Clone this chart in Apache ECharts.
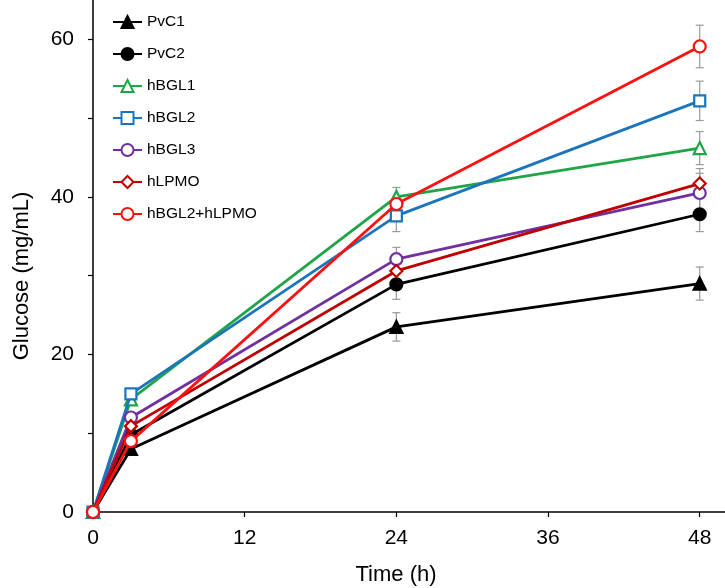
<!DOCTYPE html>
<html>
<head>
<meta charset="utf-8">
<script src="https://cdn.jsdelivr.net/npm/echarts@6/dist/echarts.min.js"></script>
<style>
html,body{margin:0;padding:0;background:#fff;}
#chart{width:725px;height:588px;}
</style>
</head>
<body>
<div id="chart"></div>
<script>
var times = [0, 3, 24, 48];
var seriesNames = ['PvC1', 'PvC2', 'hBGL1', 'hBGL2', 'hBGL3', 'hLPMO', 'hBGL2+hLPMO'];
var pvc1 = [0, 8.0, 23.5, 29.0];
var pvc2 = [0, 9.8, 28.9, 37.8];
var hbgl1 = [0, 14.3, 40.0, 46.2];
var hbgl2 = [0, 15.0, 37.6, 52.2];
var hbgl3 = [0, 12.0, 32.1, 40.5];
var hlpmo = [0, 10.9, 30.6, 41.7];
var hbgl2hlpmo = [0, 9.0, 39.1, 59.1];
var pvc1Err = [0, 0.4, 1.8, 2.1];
var pvc2Err = [0, 0.4, 1.9, 2.2];
var hbgl1Err = [0, 0.4, 1.2, 2.1];
var hbgl2Err = [0, 0.4, 2.0, 2.5];
var hbgl3Err = [0, 0.4, 1.5, 2.5];
var hlpmoErr = [0, 0.4, 1.5, 1.9];
var hbgl2hlpmoErr = [0, 0.4, 1.0, 2.7];
var xTicks = [0, 12, 24, 36, 48];
var yTicks = [0, 20, 40, 60];

var values = [pvc1, pvc2, hbgl1, hbgl2, hbgl3, hlpmo, hbgl2hlpmo];
var errors = [pvc1Err, pvc2Err, hbgl1Err, hbgl2Err, hbgl3Err, hlpmoErr, hbgl2hlpmoErr];
var colors = ['#000000', '#000000', '#1fa548', '#1c75bc', '#7030a0', '#c00000', '#ff1010'];
var symbols = ['triangle', 'circle', 'triangle', 'rect', 'circle', 'diamond', 'circle'];
var filled = [true, true, false, false, false, false, false];
var sizes = [12, 12, 12, 11, 12, 12, 12];
var FONT = 'Liberation Sans, Arial, sans-serif';

var series = [];
var errData = [];
values.forEach(function (vals, si) {
  vals.forEach(function (v, i) {
    errData.push([times[i], v, errors[si][i]]);
  });
});
series.push({
  type: 'custom',
  name: 'err',
  z: 1,
  silent: true,
  data: errData,
  renderItem: function (params, api) {
    var x = api.value(0), y = api.value(1), e = api.value(2);
    var top = api.coord([x, y + e]);
    var bot = api.coord([x, y - e]);
    var hw = 4;
    var st = { stroke: '#9a9a9a', lineWidth: 1.2 };
    return {
      type: 'group',
      children: [
        { type: 'line', shape: { x1: top[0], y1: top[1], x2: bot[0], y2: bot[1] }, style: st },
        { type: 'line', shape: { x1: top[0] - hw, y1: top[1], x2: top[0] + hw, y2: top[1] }, style: st },
        { type: 'line', shape: { x1: bot[0] - hw, y1: bot[1], x2: bot[0] + hw, y2: bot[1] }, style: st }
      ]
    };
  }
});
seriesNames.forEach(function (name, si) {
  series.push({
    type: 'line',
    name: name,
    z: 2 + si,
    data: times.map(function (t, i) { return [t, values[si][i]]; }),
    symbol: symbols[si],
    symbolSize: sizes[si],
    showAllSymbol: true,
    lineStyle: { color: colors[si], width: 2.8 },
    itemStyle: {
      color: filled[si] ? colors[si] : '#ffffff',
      borderColor: colors[si],
      borderWidth: 2.2
    },
    emphasis: { disabled: true },
    animation: false
  });
});

var chart = echarts.init(document.getElementById('chart'));
chart.setOption({
  animation: false,
  backgroundColor: '#ffffff',
  grid: { left: 93, right: 0, top: 0, bottom: 76, containLabel: false },
  legend: {
    data: seriesNames,
    orient: 'vertical',
    left: 107,
    top: 8,
    itemWidth: 29,
    itemHeight: 15,
    itemGap: 16,
    padding: [6, 5, 5, 5],
    textStyle: { fontFamily: FONT, fontSize: 15.5, color: '#000' },
    selectedMode: false
  },
  xAxis: {
    type: 'value',
    min: 0,
    max: 50,
    interval: 12,
    splitLine: { show: false },
    axisLine: { lineStyle: { color: '#000', width: 1.5 } },
    axisTick: { show: true, inside: false, length: 5, lineStyle: { color: '#000', width: 1.2 } },
    axisLabel: {
      showMaxLabel: false,
      margin: 16,
      fontFamily: FONT,
      fontSize: 21,
      color: '#000',
      formatter: function (v) { return xTicks.indexOf(v) >= 0 ? String(v) : ''; }
    }
  },
  yAxis: {
    type: 'value',
    min: 0,
    max: 65,
    interval: 10,
    splitLine: { show: false },
    axisLine: { show: true, lineStyle: { color: '#000', width: 1.5 } },
    axisTick: { show: true, inside: false, length: 5, lineStyle: { color: '#000', width: 1.2 } },
    axisLabel: {
      showMaxLabel: false,
      margin: 19,
      fontFamily: FONT,
      fontSize: 21,
      color: '#000',
      formatter: function (v) { return yTicks.indexOf(v) >= 0 ? String(v) : ''; }
    }
  },
  graphic: [
    {
      type: 'text',
      x: 396, y: 575,
      style: { text: 'Time (h)', fontFamily: FONT, fontSize: 22, fill: '#000', align: 'center', verticalAlign: 'middle' }
    },
    {
      type: 'text',
      x: 22, y: 276,
      rotation: Math.PI / 2,
      style: { text: 'Glucose (mg/mL)', fontFamily: FONT, fontSize: 22, fill: '#000', align: 'center', verticalAlign: 'middle' }
    }
  ],
  series: series
});
</script>
</body>
</html>
